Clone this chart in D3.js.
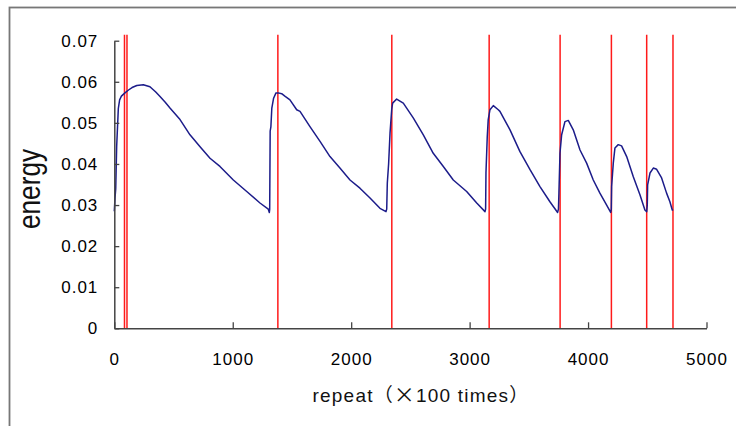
<!DOCTYPE html>
<html>
<head>
<meta charset="utf-8">
<script src="https://cdn.jsdelivr.net/npm/d3@7"></script>
<style>
  body { margin: 0; background: #fff; }
  svg { display: block; }
</style>
</head>
<body>
<div id="root"></div>
<script>
const w = 736;
const h = 426;
const plotLeft = 114.3;
const plotRight = 706.5;
const plotTop = 40.7;
const plotBottom = 328.3;

// repeat (x100 times) and energy
const repeatX = [
  0, 6, 12, 20, 34, 45, 60, 90, 120, 150, 190, 245, 301, 350, 386, 430, 470,
  555, 639, 724, 808, 892, 1005, 1118, 1230, 1300, 1309,
  1312, 1316, 1322, 1330, 1345, 1365, 1385, 1413, 1440, 1483, 1540, 1568,
  1652, 1737, 1821, 1905, 1990, 2074, 2159, 2243, 2294,
  2300, 2305, 2316, 2328, 2342, 2350, 2384, 2440, 2524, 2609, 2693, 2778,
  2862, 2975, 3060, 3130,
  3135, 3138, 3149, 3157, 3172, 3200, 3242, 3256, 3341, 3425, 3510, 3594,
  3678, 3743,
  3750, 3754, 3763, 3777, 3805, 3833, 3875, 3932, 3988, 4044, 4100, 4157, 4191,
  4196, 4199, 4213, 4227, 4255, 4283, 4326, 4382, 4438, 4480, 4495,
  4500, 4503, 4523, 4551, 4579, 4621, 4663, 4691, 4711, 4719
];
const energy = [
  0.0285, 0.0317, 0.034, 0.0443, 0.0535, 0.0556, 0.0565, 0.0573, 0.058,
  0.0586, 0.0591, 0.0593, 0.0588, 0.0575, 0.0564, 0.055, 0.0536,
  0.0508, 0.0471, 0.0442, 0.0414, 0.0394, 0.0361, 0.0333, 0.0305, 0.029, 0.0282,
  0.029, 0.048, 0.049, 0.0536, 0.056, 0.0573, 0.0573, 0.0571, 0.0565, 0.0556,
  0.0532, 0.0528, 0.0491, 0.0455, 0.0418, 0.039, 0.0361, 0.0341, 0.0317,
  0.0292, 0.0284,
  0.029, 0.0353, 0.04, 0.0475, 0.0532, 0.0548, 0.0558, 0.0548, 0.0512, 0.0471,
  0.0426, 0.0394, 0.0361, 0.0333, 0.0305, 0.0284,
  0.029, 0.0378, 0.0467, 0.0508, 0.0532, 0.0542, 0.0532, 0.0528, 0.0483,
  0.043, 0.0386, 0.0345, 0.0308, 0.0282,
  0.029, 0.0329, 0.0426, 0.0471, 0.0503, 0.0506, 0.0483, 0.0434, 0.0402,
  0.0361, 0.0329, 0.03, 0.0282,
  0.029, 0.0345, 0.0402, 0.0439, 0.0447, 0.0444, 0.0418, 0.0369, 0.0325,
  0.0288, 0.0284,
  0.03, 0.0349, 0.0378, 0.039, 0.0387, 0.0366, 0.0329, 0.0308, 0.0288, 0.0288
];
const markers = [86, 107, 1381, 2343, 3165, 3764, 4197, 4495, 4717];
const xTicks = [0, 1000, 2000, 3000, 4000, 5000];
const yTicks = [0, 0.01, 0.02, 0.03, 0.04, 0.05, 0.06, 0.07];

const svg = d3
  .select("#root")
  .append("svg")
  .attr("width", w)
  .attr("height", h);

// outer frame (runs off right and bottom)
svg
  .append("rect")
  .attr("x", 9.5)
  .attr("y", 7.5)
  .attr("width", w + 20)
  .attr("height", h + 20)
  .attr("fill", "none")
  .attr("stroke", "#777")
  .attr("stroke-width", 1.8);

const xScale = d3.scaleLinear().domain([0, 5000]).range([plotLeft, plotRight]);
const yScale = d3.scaleLinear().domain([0, 0.07]).range([plotBottom, plotTop]);

// red markers
svg
  .append("g")
  .selectAll("line")
  .data(markers)
  .join("line")
  .attr("x1", (d) => xScale(d))
  .attr("x2", (d) => xScale(d))
  .attr("y1", yScale(0))
  .attr("y2", plotTop - 6)
  .attr("stroke", "#ff1a1a")
  .attr("stroke-width", 1.5);

const line = d3
  .line()
  .x((d, i) => xScale(repeatX[i]))
  .y((d) => yScale(d));

svg
  .append("path")
  .datum(energy)
  .attr("d", line)
  .attr("fill", "none")
  .attr("stroke", "#1c1c8a")
  .attr("stroke-width", 1.5)
  .attr("stroke-linejoin", "round");

const xAxis = d3
  .axisBottom(xScale)
  .tickValues(xTicks)
  .tickSize(-6)
  .tickSizeOuter(0)
  .tickPadding(25)
  .tickFormat(d3.format("d"));

const gx = svg
  .append("g")
  .attr("transform", `translate(0,${plotBottom})`)
  .call(xAxis);

const yAxis = d3
  .axisLeft(yScale)
  .tickValues(yTicks)
  .tickSize(-5)
  .tickSizeOuter(0)
  .tickPadding(16)
  .tickFormat((d) => (d === 0 ? "0" : d3.format(".2f")(d)));

const gy = svg
  .append("g")
  .attr("transform", `translate(${plotLeft},0)`)
  .call(yAxis);

[gx, gy].forEach((g) => {
  g.select(".domain").attr("stroke", "#444").attr("stroke-width", 1.5);
  g.selectAll(".tick line").attr("stroke", "#444").attr("stroke-width", 1.3);
  g.selectAll("text")
    .attr("font-family", "Liberation Sans, Arial, sans-serif")
    .attr("font-size", 17)
    .attr("letter-spacing", "1px")
    .attr("fill", "#000");
});

const xTitle = svg
  .append("text")
  .attr("x", 421)
  .attr("y", 402)
  .attr("text-anchor", "middle")
  .attr("font-family", "Liberation Sans, Arial, 'Noto Sans CJK JP', sans-serif")
  .attr("font-size", 19)
  .attr("letter-spacing", "1.2px")
  .attr("fill", "#111");

xTitle.append("tspan").text("repeat（");
xTitle
  .append("tspan")
  .attr("font-family", "'Noto Sans CJK JP', sans-serif")
  .attr("font-size", 21)
  .text("×");
xTitle.append("tspan").text("100 times）");

svg
  .append("text")
  .attr("transform", "translate(40,189) rotate(-90) scale(0.82,1)")
  .attr("text-anchor", "middle")
  .attr("font-family", "Liberation Sans, Arial, sans-serif")
  .attr("font-size", 32)
  .attr("fill", "#111")
  .text("energy");
</script>
</body>
</html>
